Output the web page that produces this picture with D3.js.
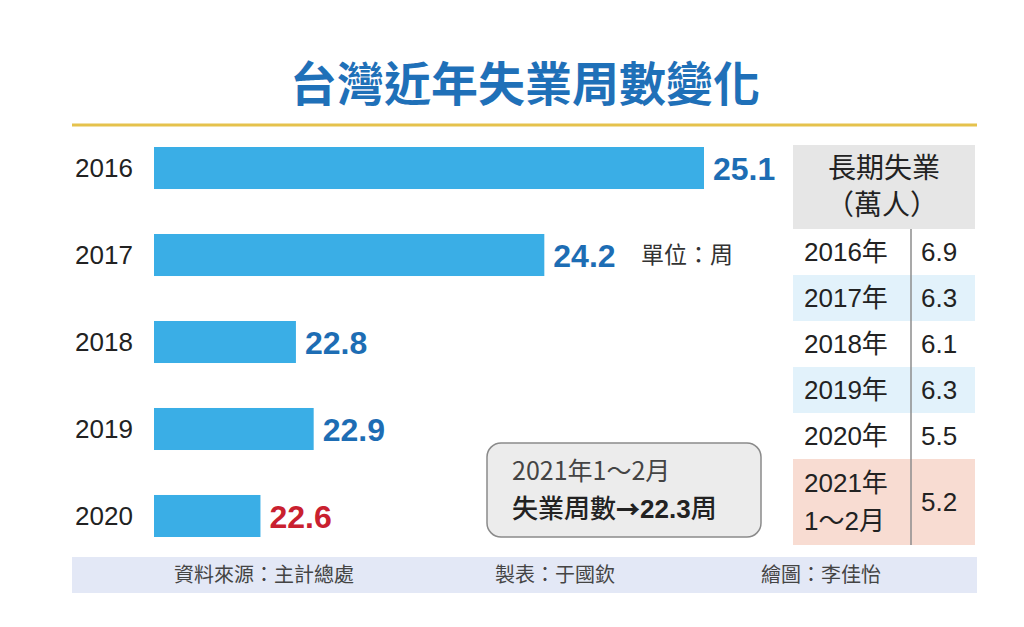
<!DOCTYPE html>
<html>
<head>
<meta charset="utf-8">
<script src="https://cdn.jsdelivr.net/npm/d3@7"></script>
<style>
  body { margin: 0; background: #fff; }
  text { font-family: "Liberation Sans", "Noto Sans CJK TC", sans-serif; }
  .cjk { font-family: "Noto Sans CJK TC", sans-serif; }
</style>
</head>
<body>
<div id="chart"></div>
<script>
// data
var years = ["2016", "2017", "2018", "2019", "2020"];
var weeks = [25.1, 24.2, 22.8, 22.9, 22.6];
var tableYears = ["2016年", "2017年", "2018年", "2019年", "2020年", "2021年|1～2月"];
var longTerm = [6.9, 6.3, 6.1, 6.3, 5.5, 5.2];
var rowFill = ["#ffffff", "#e2f2fb", "#ffffff", "#e2f2fb", "#ffffff", "#f8dcd2"];
var footer = ["資料來源：主計總處", "製表：于國欽", "繪圖：李佳怡"];

var width = 1024, height = 627;

var svg = d3.select("#chart")
  .append("svg")
    .attr("width", width)
    .attr("height", height);

// title
svg.append("text")
  .attr("class", "cjk")
  .attr("x", 525)
  .attr("y", 101)
  .attr("text-anchor", "middle")
  .attr("font-size", 47)
  .attr("font-weight", 700)
  .attr("fill", "#1f70b8")
  .text("台灣近年失業周數變化");

svg.append("line")
  .attr("x1", 72).attr("x2", 977)
  .attr("y1", 125).attr("y2", 125)
  .attr("stroke", "#e5c24c")
  .attr("stroke-width", 3);

// bars
var x = d3.scaleLinear()
  .domain([22, 25.1])
  .range([154, 704]);

var y = d3.scaleBand()
  .domain(years)
  .range([147, 537])
  .paddingInner(0.517);

svg.selectAll(".bar")
  .data(weeks)
  .enter()
  .append("rect")
    .attr("class", "bar")
    .attr("x", x(22))
    .attr("y", function(d, i) { return y(years[i]); })
    .attr("width", function(d) { return x(d) - x(22); })
    .attr("height", y.bandwidth())
    .attr("fill", "#3aaee6");

// year labels on the left
svg.selectAll(".yearLabel")
  .data(years)
  .enter()
  .append("text")
    .attr("x", 75)
    .attr("y", function(d) { return y(d) + y.bandwidth() / 2; })
    .attr("dy", "0.36em")
    .attr("font-size", 26)
    .attr("fill", "#222")
    .text(function(d) { return d; });

// value labels
svg.selectAll(".valLabel")
  .data(weeks)
  .enter()
  .append("text")
    .attr("x", function(d) { return x(d) + 9; })
    .attr("y", function(d, i) { return y(years[i]) + y.bandwidth() / 2; })
    .attr("dy", "0.36em")
    .attr("font-size", 32)
    .attr("font-weight", 700)
    .attr("fill", function(d, i) { return i == years.length - 1 ? "#c9202f" : "#1d6db4"; })
    .text(function(d) { return d.toFixed(1); });

svg.append("text")
  .attr("class", "cjk")
  .attr("x", 641)
  .attr("y", y("2017") + y.bandwidth() / 2)
  .attr("dy", "0.36em")
  .attr("font-size", 23)
  .attr("fill", "#333")
  .text("單位：周");

// callout box
svg.append("rect")
  .attr("x", 487).attr("y", 443)
  .attr("width", 274).attr("height", 94)
  .attr("rx", 14)
  .attr("fill", "#ececec")
  .attr("stroke", "#8a8a8a")
  .attr("stroke-width", 1.5);

svg.append("text")
  .attr("class", "cjk")
  .attr("x", 512).attr("y", 480)
  .attr("font-size", 25)
  .attr("fill", "#444")
  .text("2021年1～2月");

var callout = svg.append("text")
  .attr("class", "cjk")
  .attr("x", 512).attr("y", 518)
  .attr("font-size", 26)
  .attr("fill", "#222");
callout.append("tspan").attr("font-weight", 500).text("失業周數");
callout.append("tspan").attr("font-weight", 900).attr("font-size", 24).text("→");
callout.append("tspan").attr("font-weight", 700).attr("font-family", "Liberation Sans").text("22.3");
callout.append("tspan").attr("font-weight", 500).text("周");

// table on the right
var tx0 = 793, tx1 = 975, tdiv = 911;
svg.append("rect")
  .attr("x", tx0).attr("y", 145)
  .attr("width", tx1 - tx0).attr("height", 84)
  .attr("fill", "#e6e6e6");

svg.append("text")
  .attr("class", "cjk")
  .attr("x", (tx0 + tx1) / 2).attr("y", 178)
  .attr("text-anchor", "middle")
  .attr("font-size", 28)
  .attr("fill", "#222")
  .text("長期失業");
svg.append("text")
  .attr("class", "cjk")
  .attr("x", (tx0 + tx1) / 2 - 2).attr("y", 215)
  .attr("text-anchor", "middle")
  .attr("font-size", 28)
  .attr("fill", "#222")
  .text("（萬人）");

var rowH = tableYears.map(function(d) { return d.indexOf("|") >= 0 ? 86 : 46; });
var rowY = [];
var acc = 229;
rowH.forEach(function(h) { rowY.push(acc); acc += h; });

var rows = svg.selectAll(".row")
  .data(longTerm)
  .enter()
  .append("g")
    .attr("transform", function(d, i) { return "translate(0," + rowY[i] + ")"; });

rows.append("rect")
  .attr("x", tx0)
  .attr("width", tx1 - tx0)
  .attr("height", function(d, i) { return rowH[i]; })
  .attr("fill", function(d, i) { return rowFill[i]; });

rows.each(function(d, i) {
  var g = d3.select(this);
  var lines = tableYears[i].split("|");
  var h = rowH[i];
  lines.forEach(function(line, j) {
    g.append("text")
      .attr("x", 804)
      .attr("y", h / 2 + (j - (lines.length - 1) / 2) * 38)
      .attr("dy", "0.36em")
      .attr("font-size", 26)
      .attr("fill", "#222")
      .text(line);
  });
  g.append("text")
    .attr("x", 921)
    .attr("y", h / 2)
    .attr("dy", "0.36em")
    .attr("font-size", 26)
    .attr("fill", "#222")
    .text(d.toFixed(1));
});

svg.append("line")
  .attr("x1", tdiv).attr("x2", tdiv)
  .attr("y1", 229).attr("y2", acc)
  .attr("stroke", "#8c8c8c")
  .attr("stroke-width", 1.5);

// footer band
svg.append("rect")
  .attr("x", 72).attr("y", 557)
  .attr("width", 905).attr("height", 36)
  .attr("fill", "#e3e8f6");

var footX = [264, 555, 821];
svg.selectAll(".foot")
  .data(footer)
  .enter()
  .append("text")
    .attr("class", "cjk")
    .attr("x", function(d, i) { return footX[i]; })
    .attr("y", 575)
    .attr("dy", "0.36em")
    .attr("text-anchor", "middle")
    .attr("font-size", 20)
    .attr("fill", "#444")
    .text(function(d) { return d; });
</script>
</body>
</html>
